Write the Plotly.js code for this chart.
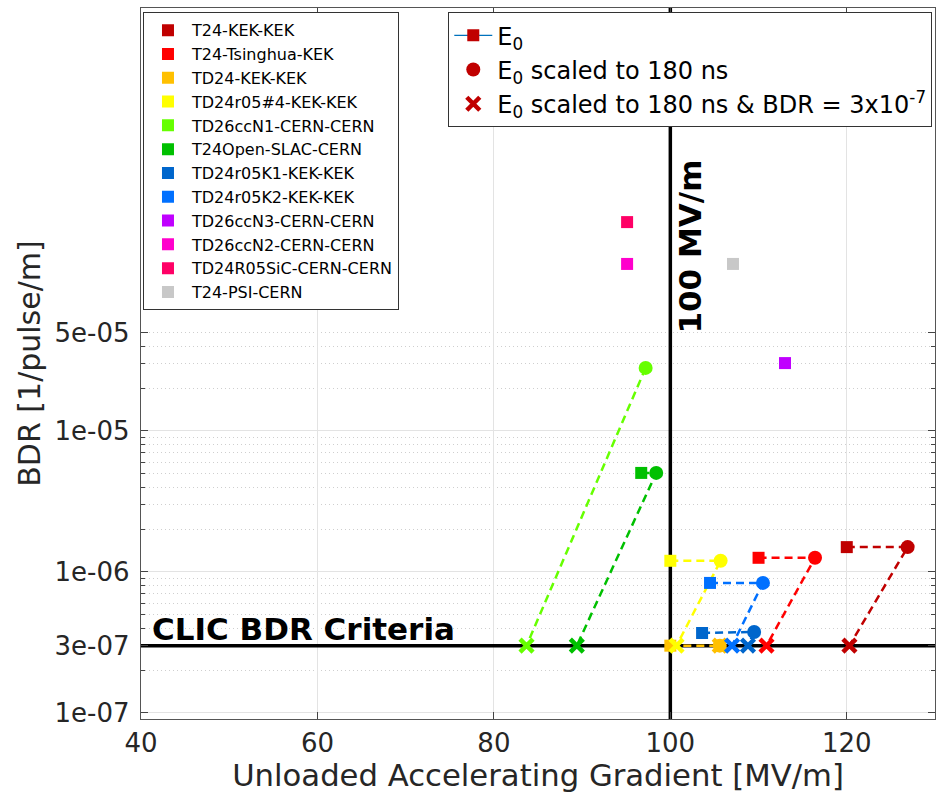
<!DOCTYPE html>
<html>
<head>
<meta charset="utf-8">
<script src="https://cdn.plot.ly/plotly-3.0.1.min.js"></script>
<style>
  html, body { margin: 0; padding: 0; background: #ffffff; }
  #chart { width: 939px; height: 793px; }
</style>
</head>
<body>
<div id="chart"></div>
<script>
// ---- data ----
const names = [
  'T24-KEK-KEK', 'T24-Tsinghua-KEK', 'TD24-KEK-KEK', 'TD24r05#4-KEK-KEK',
  'TD26ccN1-CERN-CERN', 'T24Open-SLAC-CERN', 'TD24r05K1-KEK-KEK', 'TD24r05K2-KEK-KEK',
  'TD26ccN3-CERN-CERN', 'TD26ccN2-CERN-CERN', 'TD24R05SiC-CERN-CERN', 'T24-PSI-CERN'
];
// E0 (square markers)
const e0Gradient = [120.0, 110.0, 100.0, 100.0, null, 96.7, 103.6, 104.5, 113.0, 95.1, 95.1, 107.1];
const e0BDR      = [1.50e-6, 1.26e-6, 3.0e-7, 1.20e-6, null, 5.04e-6, 3.69e-7, 8.36e-7, 3.03e-5, 1.53e-4, 3.03e-4, 1.53e-4];
// E0 scaled to 180 ns (circle markers)
const e180Gradient = [126.9, 116.4, 105.6, 105.7, 97.2, 98.4, 109.5, 110.5, null, null, null, null];
const e180BDR      = [1.50e-6, 1.26e-6, 3.0e-7, 1.20e-6, 2.80e-5, 5.04e-6, 3.75e-7, 8.36e-7, null, null, null, null];
// E0 scaled to 180 ns & BDR = 3e-7 (x markers)
const critGradient = [120.3, 110.9, 105.6, 100.7, 83.7, 89.4, 108.8, 107.0, null, null, null, null];
const clicBDR = 3e-7;
const refGradient = 100;

// axis ranges and ticks
const xRange = [40, 130];
const yRange = [-7.043, -2.0];
const xTicks = [40, 60, 80, 100, 120];
const yTicks = [1e-7, 3e-7, 1e-6, 1e-5, 5e-5];
const yTickText = ['1e-07', '3e-07', '1e-06', '1e-05', '5e-05'];
const yDecades = [1e-7, 1e-6, 1e-5];
const yMinor = [2e-7, 3e-7, 4e-7, 5e-7, 6e-7, 7e-7, 8e-7, 9e-7,
                2e-6, 3e-6, 4e-6, 5e-6, 6e-6, 7e-6, 8e-6, 9e-6,
                2e-5, 3e-5, 4e-5, 5e-5];

// ---- styles ----
const colors = ['#c00000', '#ff0000', '#ffc000', '#ffff00', '#66ff00', '#00c000',
                '#0066cc', '#0070ff', '#c000ff', '#ff00cc', '#ff0066', '#c8c8c8'];
const FONT = 'DejaVu Sans, Verdana, sans-serif';
const TXT = '#262626';

const traces = [];
// reference lines (drawn first so markers sit on top)
traces.push({
  type: 'scatter', mode: 'lines', showlegend: false, hoverinfo: 'skip',
  x: [refGradient, refGradient], y: [Math.pow(10, yRange[0]), Math.pow(10, yRange[1])],
  line: { color: '#000', width: 3.5 }
});
traces.push({
  type: 'scatter', mode: 'lines', showlegend: false, hoverinfo: 'skip',
  x: xRange, y: [clicBDR, clicBDR],
  line: { color: '#000', width: 3.5 }
});

for (let i = 0; i < names.length; i++) {
  const px = [], py = [];
  if (e0Gradient[i] !== null) { px.push(e0Gradient[i]); py.push(e0BDR[i]); }
  if (e180Gradient[i] !== null) { px.push(e180Gradient[i]); py.push(e180BDR[i]); }
  if (critGradient[i] !== null) { px.push(critGradient[i]); py.push(clicBDR); }
  if (px.length > 1) {
    traces.push({
      type: 'scatter', mode: 'lines', x: px, y: py, showlegend: false, hoverinfo: 'skip',
      line: { color: colors[i], width: 2.5, dash: '8px,5px' }
    });
  }
  traces.push({
    type: 'scatter', mode: 'markers', name: names[i], legend: 'legend',
    x: [e0Gradient[i]], y: [e0BDR[i]],
    marker: { symbol: 'square', size: 12, color: colors[i], line: { width: 0 } }
  });
  if (e180Gradient[i] !== null) {
    traces.push({
      type: 'scatter', mode: 'markers', showlegend: false,
      x: [e180Gradient[i]], y: [e180BDR[i]],
      marker: { symbol: 'circle', size: 14, color: colors[i], line: { width: 0 } }
    });
  }
  if (critGradient[i] !== null) {
    traces.push({
      type: 'scatter', mode: 'markers', showlegend: false,
      x: [critGradient[i]], y: [clicBDR],
      marker: { symbol: 'x-thin', size: 13, color: colors[i], line: { width: 4.5, color: colors[i] } }
    });
  }
}

// second legend (marker meaning)
traces.push({
  type: 'scatter', mode: 'lines+markers', name: 'E<sub>0</sub>', legend: 'legend2', yaxis: 'y2',
  x: [null], y: [null],
  line: { color: '#0072bd', width: 1.2 },
  marker: { symbol: 'square', size: 12, color: '#c00000' }
});
traces.push({
  type: 'scatter', mode: 'markers', name: 'E<sub>0</sub> scaled to 180 ns', legend: 'legend2', yaxis: 'y2',
  x: [null], y: [null],
  marker: { symbol: 'circle', size: 14, color: '#c00000' }
});
traces.push({
  type: 'scatter', mode: 'markers', name: 'E<sub>0</sub> scaled to 180 ns & BDR = 3x10<sup>-7</sup>',
  legend: 'legend2', yaxis: 'y2',
  x: [null], y: [null],
  marker: { symbol: 'x-thin', size: 13, color: '#c00000', line: { width: 4.5, color: '#c00000' } }
});

const layout = {
  width: 939, height: 793,
  margin: { l: 141, r: 4, t: 8, b: 74, pad: 0 },
  paper_bgcolor: '#ffffff', plot_bgcolor: '#ffffff',
  font: { family: FONT, color: TXT },
  showlegend: true,
  xaxis: {
    range: xRange, autorange: false,
    tickmode: 'array', tickvals: xTicks, ticktext: xTicks.map(String),
    ticks: 'inside', ticklen: 7, tickwidth: 1, tickcolor: '#444',
    showline: true, linecolor: '#555', linewidth: 1.3, mirror: 'ticks',
    showgrid: true, gridcolor: '#e3e3e3', gridwidth: 1, zeroline: false,
    tickfont: { family: FONT, size: 26, color: TXT },
    title: { text: 'Unloaded Accelerating Gradient [MV/m]', font: { family: FONT, size: 30.7, color: TXT }, standoff: 9 }
  },
  yaxis: {
    type: 'log', range: yRange, autorange: false,
    tickmode: 'array', tickvals: yTicks, ticktext: yTickText,
    ticks: 'inside', ticklen: 7, tickwidth: 1, tickcolor: '#444',
    showline: true, linecolor: '#555', linewidth: 1.3, mirror: 'ticks',
    showgrid: false, zeroline: false,
    minor: { tickmode: 'array', tickvals: yMinor, ticks: 'inside', ticklen: 4, tickcolor: '#444',
             showgrid: true, gridcolor: '#cfcfcf', griddash: '1px,3px', gridwidth: 1 },
    tickfont: { family: FONT, size: 26, color: TXT },
    ticklabelposition: 'outside',
    ticklabelstandoff: 5,
    title: { text: 'BDR [1/pulse/m]', font: { family: FONT, size: 30, color: TXT }, standoff: 5 }
  },
  yaxis2: {
    type: 'log', range: yRange, autorange: false, overlaying: 'y',
    tickmode: 'array', tickvals: yDecades, showticklabels: false, ticks: '',
    showgrid: true, gridcolor: '#e3e3e3', gridwidth: 1, showline: false, zeroline: false
  },
  legend: {
    x: 0.0025, y: 0.994, xanchor: 'left', yanchor: 'top',
    bgcolor: '#ffffff', bordercolor: '#333', borderwidth: 1,
    font: { family: FONT, size: 16, color: '#000' },
    tracegroupgap: 0, itemwidth: 38
  },
  legend2: {
    x: 0.387, y: 0.994, xanchor: 'left', yanchor: 'top',
    bgcolor: '#ffffff', bordercolor: '#333', borderwidth: 1,
    font: { family: FONT, size: 24, color: '#000' },
    tracegroupgap: 0, itemwidth: 38
  },
  annotations: [
    { text: '<b>CLIC BDR Criteria</b>', xref: 'x', yref: 'y', x: 40, y: Math.log10(clicBDR),
      xanchor: 'left', yanchor: 'bottom', xshift: 9, yshift: -3, showarrow: false,
      font: { family: FONT, size: 31, color: '#000' } },
    { text: '<b>100 MV/m</b>', xref: 'x', yref: 'paper', x: refGradient, y: 0.665,
      xanchor: 'left', yanchor: 'middle', xshift: 0, textangle: -90, showarrow: false,
      font: { family: FONT, size: 31, color: '#000' } }
  ]
};

Plotly.newPlot('chart', traces, layout, { displayModeBar: false, staticPlot: true });
</script>
</body>
</html>
